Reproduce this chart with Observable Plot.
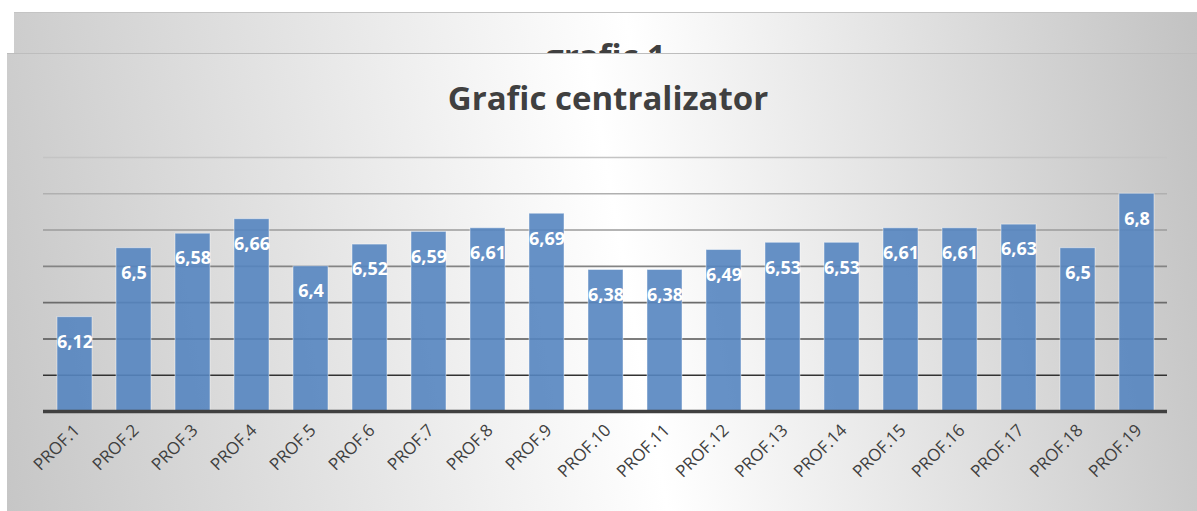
<!DOCTYPE html>
<html>
<head>
<meta charset="utf-8">
<script src="https://cdn.jsdelivr.net/npm/d3@7"></script>
<script src="https://cdn.jsdelivr.net/npm/@observablehq/plot@0.6"></script>
<style>
  html, body { margin: 0; padding: 0; background: #ffffff; }
  #page { position: relative; width: 1197px; height: 511px; overflow: hidden; background: #ffffff; font-family: "Open Sans", sans-serif; }
  #back { position: absolute; left: 14px; top: 12px; width: 1183px; height: 499px;
    border-top: 1.5px solid #c4c4c4;
    background: linear-gradient(80deg, #c6c6c6 0%, #ffffff 55%, #c2c2c2 100%); }
  #backClip { position: absolute; left: 0; top: 0; width: 1183px; height: 41px; overflow: hidden; }
  #backTitle { position: absolute; left: 0; width: 1183px; top: 26px; text-align: center;
    font-weight: 700; font-size: 33px; color: #404040; line-height: 1; }
  #front { position: absolute; left: 7px; top: 53px; width: 1190px; height: 458px;
    border-top: 1.5px solid #bdbdbd;
    background: linear-gradient(80deg, #c6c6c6 0%, #ffffff 52%, #c2c2c2 100%); }
  #title { position: absolute; left: 0; top: 81px; width: 1216px; text-align: center;
    font-weight: 700; font-size: 33px; color: #404040; line-height: 1; }
  #chart { position: absolute; left: 0; top: 140px; }
</style>
</head>
<body>
<div id="page">
  <div id="back"><div id="backClip"><div id="backTitle">grafic 1</div></div></div>
  <div id="front"></div>
  <div id="title">Grafic centralizator</div>
  <div id="chart"></div>
</div>
<script>
const categories = ["PROF.1","PROF.2","PROF.3","PROF.4","PROF.5","PROF.6","PROF.7","PROF.8","PROF.9","PROF.10",
  "PROF.11","PROF.12","PROF.13","PROF.14","PROF.15","PROF.16","PROF.17","PROF.18","PROF.19"];
const values = [6.12, 6.5, 6.58, 6.66, 6.4, 6.52, 6.59, 6.61, 6.69, 6.38,
  6.38, 6.49, 6.53, 6.53, 6.61, 6.61, 6.63, 6.5, 6.8];
const yDomain = [5.6, 7.0];
const gridValues = [5.8, 6.0, 6.2, 6.4, 6.6, 6.8, 7.0];

const data = categories.map((c, i) => ({ prof: c, value: values[i] }));
const gridColor = v => d3.interpolateRgb("#000000", "#c4c4c4")(Math.pow((v - yDomain[0]) / (yDomain[1] - yDomain[0]), 0.7));
const fmt = v => String(v).replace(".", ",");

const chart = Plot.plot({
  width: 1197,
  height: 371,
  marginLeft: 43,
  marginRight: 30,
  marginTop: 17,
  marginBottom: 100,
  style: { background: "transparent", fontFamily: "Open Sans, sans-serif", overflow: "visible" },
  x: { type: "band", domain: categories, paddingInner: 0.41, paddingOuter: 0.205, label: null, axis: null },
  y: { domain: yDomain, label: null, axis: null },
  marks: [
    Plot.ruleY(gridValues, { stroke: d => gridColor(d), strokeWidth: 1.6 }),
    Plot.barY(data, { x: "prof", y1: yDomain[0], y2: "value", fill: "#5585c0", fillOpacity: 0.9, stroke: "#ffffff", strokeOpacity: 0.45, strokeWidth: 1 }),
    Plot.ruleY([yDomain[0]], { stroke: "#404040", strokeWidth: 3.5 }),
    Plot.text(data, { x: "prof", y: "value", text: d => fmt(d.value), dy: 25, fill: "#ffffff", fontWeight: "bold", fontSize: 18 }),
    Plot.text(categories, { x: d => d, y: yDomain[0], text: d => d, rotate: -45, textAnchor: "end", lineAnchor: "middle", dx: 2, dy: 16, fontSize: 17, fill: "#404040" })
  ]
});
document.getElementById("chart").appendChild(chart);
</script>
</body>
</html>
